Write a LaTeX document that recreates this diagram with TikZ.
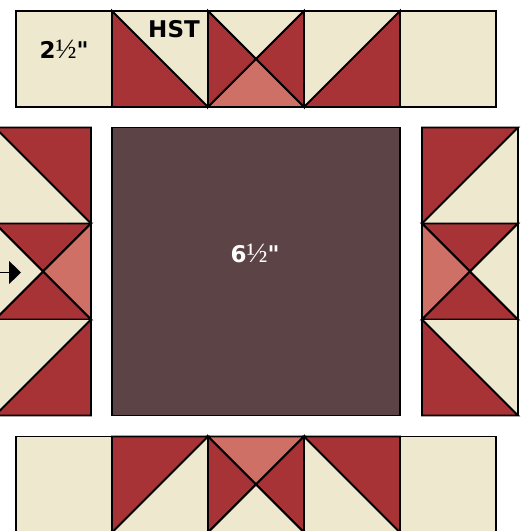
\documentclass[tikz,border=0pt]{standalone}
\usepackage{fontspec}
\usepackage{tikz}
\usetikzlibrary{arrows.meta}
\newfontfamily\labelfont{DejaVu Sans}
\newfontfamily\fracfont{Liberation Serif}
\definecolor{creamcloth}{HTML}{EEE8CF}
\definecolor{redcloth}{HTML}{A83336}
\definecolor{pinkcloth}{HTML}{CF7066}
\definecolor{browncloth}{HTML}{5C4346}
\newcommand{\half}{{\fontsize{28}{28}\fracfont\mdseries ½}}
\tikzset{
    cream/.style={draw=black, fill=creamcloth, line width=1.9pt, line join=miter},
    red/.style={draw=black, fill=redcloth, line width=1.9pt, line join=miter},
    pink/.style={draw=black, fill=pinkcloth, line width=1.9pt, line join=miter},
    brown/.style={draw=black, fill=browncloth, line width=1.9pt},
    size/.style={font=\fontsize{23}{23}\labelfont\bfseries, inner sep=0pt}
}
\begin{document}
\begin{tikzpicture}[x=1pt, y=-1pt]
    \useasboundingbox (0,0) rectangle (527,531);
    \clip (0,0) rectangle (527,531);

    % top row
    \draw[cream] (16,11) rectangle (112,107);
    \draw[cream] (112,11) rectangle (208,107);
    \draw[red] (112,11) -- (208,107) -- (112,107) -- cycle;
    \draw[cream] (208,11) -- (304,11) -- (256,59) -- cycle;
    \draw[red] (208,11) -- (256,59) -- (208,107) -- cycle;
    \draw[red] (304,11) -- (304,107) -- (256,59) -- cycle;
    \draw[pink] (208,107) -- (256,59) -- (304,107) -- cycle;
    \draw[cream] (304,11) rectangle (400,107);
    \draw[red] (304,107) -- (400,11) -- (400,107) -- cycle;
    \draw[cream] (400,11) rectangle (496,107);

    % left column
    \draw[cream] (-5,127.5) rectangle (91,223.5);
    \draw[red] (-5,127.5) -- (91,127.5) -- (91,223.5) -- cycle;
    \draw[red] (-5,223.5) -- (91,223.5) -- (43,271.5) -- cycle;
    \draw[pink] (91,223.5) -- (91,319.5) -- (43,271.5) -- cycle;
    \draw[red] (-5,319.5) -- (91,319.5) -- (43,271.5) -- cycle;
    \draw[cream] (-5,223.5) -- (43,271.5) -- (-5,319.5) -- cycle;
    \draw[cream] (-5,319.5) rectangle (91,415.5);
    \draw[red] (91,319.5) -- (91,415.5) -- (-5,415.5) -- cycle;

    % center
    \draw[brown] (112,127.5) rectangle (400,415.5);

    % right column
    \draw[cream] (422,127.5) rectangle (518,223.5);
    \draw[red] (422,127.5) -- (518,127.5) -- (422,223.5) -- cycle;
    \draw[red] (422,223.5) -- (518,223.5) -- (470,271.5) -- cycle;
    \draw[pink] (422,223.5) -- (470,271.5) -- (422,319.5) -- cycle;
    \draw[red] (422,319.5) -- (518,319.5) -- (470,271.5) -- cycle;
    \draw[cream] (518,223.5) -- (518,319.5) -- (470,271.5) -- cycle;
    \draw[cream] (422,319.5) rectangle (518,415.5);
    \draw[red] (422,319.5) -- (518,415.5) -- (422,415.5) -- cycle;

    % bottom row
    \draw[cream] (16,436.5) rectangle (112,532.5);
    \draw[cream] (112,436.5) rectangle (208,532.5);
    \draw[red] (112,436.5) -- (208,436.5) -- (112,532.5) -- cycle;
    \draw[pink] (208,436.5) -- (304,436.5) -- (256,484.5) -- cycle;
    \draw[red] (208,436.5) -- (256,484.5) -- (208,532.5) -- cycle;
    \draw[red] (304,436.5) -- (304,532.5) -- (256,484.5) -- cycle;
    \draw[cream] (208,532.5) -- (256,484.5) -- (304,532.5) -- cycle;
    \draw[cream] (304,436.5) rectangle (400,532.5);
    \draw[red] (304,436.5) -- (400,436.5) -- (400,532.5) -- cycle;
    \draw[cream] (400,436.5) rectangle (496,532.5);

    % labels
    \node[size] (corner) at (64,49) {2\half"};
    \node[size] (hst) at (174,29) {HST};
    \node[size, text=white] (center) at (255,253) {6\half"};

    \coordinate (arrowstart) at (-5,272.5);
    \coordinate (arrowend) at (21,272.5);
    \draw[-{Triangle[length=12pt, width=23pt]}, line width=1pt] (arrowstart) -- (arrowend);
\end{tikzpicture}
\end{document}
